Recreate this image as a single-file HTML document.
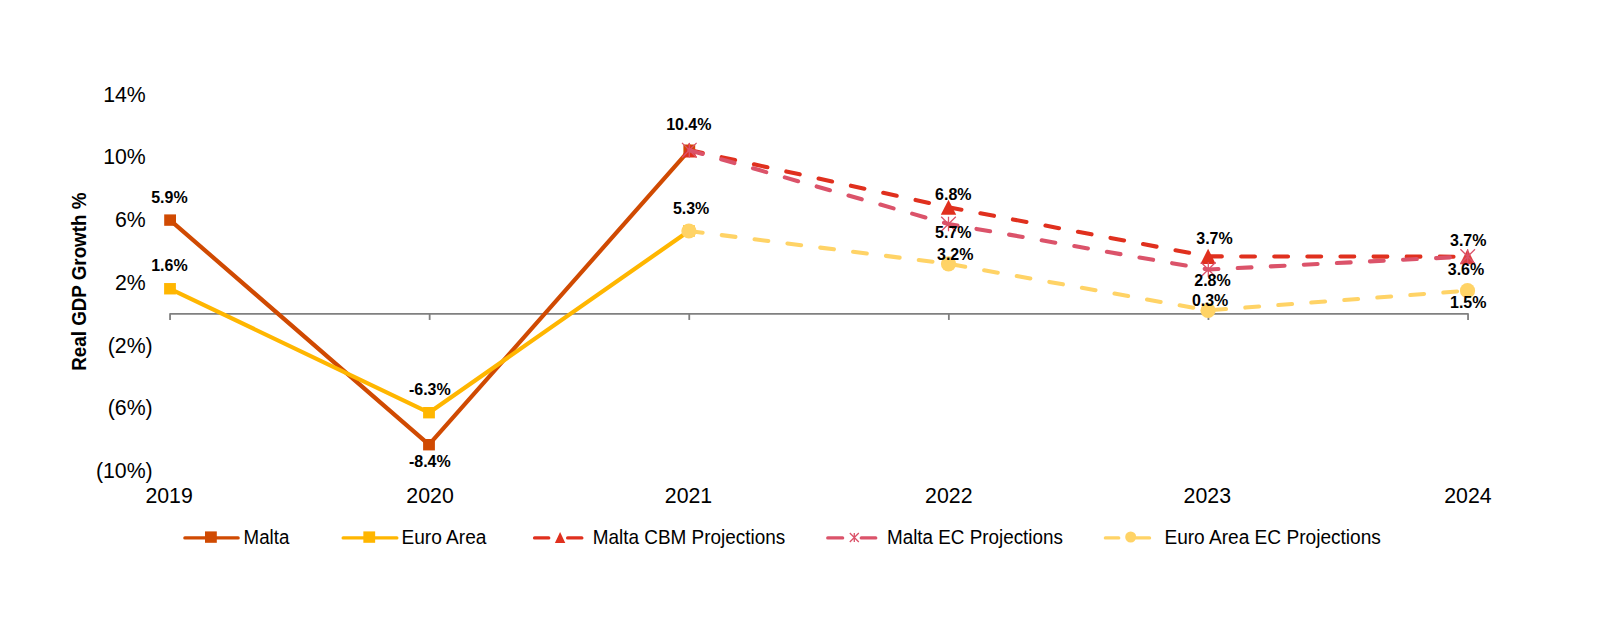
<!DOCTYPE html><html><head><meta charset="utf-8"><title>Real GDP Growth</title>
<style>html,body{margin:0;padding:0;background:#fff}svg{display:block}text{font-family:"Liberation Sans",Arial,sans-serif;fill:#000}</style></head><body>
<svg width="1600" height="619" viewBox="0 0 1600 619">
<rect width="1600" height="619" fill="#fff"/>
<path d="M170.05 319.95 V313.95 H1468.05 V319.95" stroke="#808080" stroke-width="1.8" fill="none" stroke-linejoin="round"/>
<path d="M429.65 313.95 v6" stroke="#808080" stroke-width="1.8" fill="none"/>
<path d="M689.25 313.95 v6" stroke="#808080" stroke-width="1.8" fill="none"/>
<path d="M948.85 313.95 v6" stroke="#808080" stroke-width="1.8" fill="none"/>
<path d="M1208.45 313.95 v6" stroke="#808080" stroke-width="1.8" fill="none"/>
<text transform="translate(145.80,101.70) scale(0.9616,1)" font-size="22.15" text-anchor="end">14%</text>
<text transform="translate(145.80,164.40) scale(0.9616,1)" font-size="22.15" text-anchor="end">10%</text>
<text transform="translate(145.80,227.10) scale(0.9616,1)" font-size="22.15" text-anchor="end">6%</text>
<text transform="translate(145.80,289.80) scale(0.9616,1)" font-size="22.15" text-anchor="end">2%</text>
<text transform="translate(152.70,352.50) scale(0.9616,1)" font-size="22.15" text-anchor="end">(2%)</text>
<text transform="translate(152.70,415.20) scale(0.9616,1)" font-size="22.15" text-anchor="end">(6%)</text>
<text transform="translate(152.70,477.90) scale(0.9616,1)" font-size="22.15" text-anchor="end">(10%)</text>
<text transform="translate(169.10,502.90) scale(0.9616,1)" font-size="22.15" text-anchor="middle">2019</text>
<text transform="translate(430.05,502.90) scale(0.9616,1)" font-size="22.15" text-anchor="middle">2020</text>
<text transform="translate(688.50,502.90) scale(0.9616,1)" font-size="22.15" text-anchor="middle">2021</text>
<text transform="translate(948.80,502.90) scale(0.9616,1)" font-size="22.15" text-anchor="middle">2022</text>
<text transform="translate(1207.30,502.90) scale(0.9616,1)" font-size="22.15" text-anchor="middle">2023</text>
<text transform="translate(1467.90,502.90) scale(0.9616,1)" font-size="22.15" text-anchor="middle">2024</text>
<text transform="translate(85.60,281.70) rotate(-90) scale(0.9592,1)" font-size="19.6" text-anchor="middle" font-weight="bold">Real GDP Growth %</text>
<polyline points="170.1,220.1 429.0,444.7 689.3,150.2" fill="none" stroke="#D04A02" stroke-width="4.2" stroke-linejoin="round" stroke-linecap="round"/>
<rect x="164.20" y="214.40" width="11.8" height="11.4" fill="#D04A02"/>
<rect x="423.10" y="439.00" width="11.8" height="11.4" fill="#D04A02"/>
<rect x="683.40" y="144.50" width="11.8" height="11.4" fill="#D04A02"/>
<polyline points="170.0,288.8 429.0,412.7 688.9,231.0" fill="none" stroke="#FFB600" stroke-width="4.2" stroke-linejoin="round" stroke-linecap="round"/>
<rect x="164.10" y="283.05" width="11.8" height="11.4" fill="#FFB600"/>
<rect x="423.10" y="407.00" width="11.8" height="11.4" fill="#FFB600"/>
<rect x="683.00" y="225.30" width="11.8" height="11.4" fill="#FFB600"/>
<polyline points="689.3,150.0 948.5,207.2 1208.1,256.4 1467.5,256.7" fill="none" stroke="#E0301E" stroke-width="4.1" stroke-dasharray="13.8 19.3" stroke-linecap="round" stroke-linejoin="round"/>
<path d="M689.3 142.4 L697.0 157.6 L681.6 157.6 Z" fill="#E0301E"/>
<path d="M948.5 199.7 L956.2 214.8 L940.8 214.8 Z" fill="#E0301E"/>
<path d="M1208.1 248.8 L1215.8 264.0 L1200.4 264.0 Z" fill="#E0301E"/>
<path d="M1467.5 249.1 L1475.2 264.3 L1459.8 264.3 Z" fill="#DE3F42"/>
<polyline points="689.3,150.2 948.5,224.0 1208.3,269.5 1467.7,256.5" fill="none" stroke="#DB536A" stroke-width="4.1" stroke-dasharray="13.8 19.3" stroke-linecap="round" stroke-linejoin="round"/>
<path d="M682.0 142.9 L696.6 157.5 M696.6 142.9 L682.0 157.5 M689.3 142.9 V157.5" stroke="#DB536A" stroke-width="1.3" fill="none"/>
<path d="M941.2 216.7 L955.8 231.3 M955.8 216.7 L941.2 231.3 M948.5 216.7 V231.3" stroke="#DB536A" stroke-width="1.3" fill="none"/>
<path d="M1201.0 262.2 L1215.6 276.8 M1215.6 262.2 L1201.0 276.8 M1208.3 262.2 V276.8" stroke="#DB536A" stroke-width="1.3" fill="none"/>
<path d="M1460.4 249.2 L1475.0 263.8 M1475.0 249.2 L1460.4 263.8 M1467.7 249.2 V263.8" stroke="#DB536A" stroke-width="1.3" fill="none"/>
<polyline points="688.9,231.0 948.5,263.8 1208.0,310.4 1467.5,290.7" fill="none" stroke="#FFD366" stroke-width="4.1" stroke-dasharray="13.8 19.3" stroke-linecap="round" stroke-linejoin="round"/>
<circle cx="688.9" cy="231.0" r="7.6" fill="#FFD366"/>
<circle cx="948.5" cy="263.8" r="7.6" fill="#FFD366"/>
<circle cx="1208.0" cy="310.4" r="7.6" fill="#FFD366"/>
<circle cx="1467.5" cy="290.7" r="7.6" fill="#FFD366"/>
<text transform="translate(169.40,202.85) scale(0.9412,1)" font-size="17.0" text-anchor="middle" font-weight="bold">5.9%</text>
<text transform="translate(169.40,270.60) scale(0.9412,1)" font-size="17.0" text-anchor="middle" font-weight="bold">1.6%</text>
<text transform="translate(429.80,394.60) scale(0.9412,1)" font-size="17.0" text-anchor="middle" font-weight="bold">-6.3%</text>
<text transform="translate(429.80,466.70) scale(0.9412,1)" font-size="17.0" text-anchor="middle" font-weight="bold">-8.4%</text>
<text transform="translate(688.80,129.90) scale(0.9412,1)" font-size="17.0" text-anchor="middle" font-weight="bold">10.4%</text>
<text transform="translate(691.10,214.20) scale(0.9412,1)" font-size="17.0" text-anchor="middle" font-weight="bold">5.3%</text>
<text transform="translate(953.30,199.60) scale(0.9412,1)" font-size="17.0" text-anchor="middle" font-weight="bold">6.8%</text>
<text transform="translate(953.30,237.70) scale(0.9412,1)" font-size="17.0" text-anchor="middle" font-weight="bold">5.7%</text>
<text transform="translate(955.20,259.60) scale(0.9412,1)" font-size="17.0" text-anchor="middle" font-weight="bold">3.2%</text>
<text transform="translate(1214.50,244.00) scale(0.9412,1)" font-size="17.0" text-anchor="middle" font-weight="bold">3.7%</text>
<text transform="translate(1212.50,285.70) scale(0.9412,1)" font-size="17.0" text-anchor="middle" font-weight="bold">2.8%</text>
<text transform="translate(1210.10,305.70) scale(0.9412,1)" font-size="17.0" text-anchor="middle" font-weight="bold">0.3%</text>
<text transform="translate(1468.20,246.40) scale(0.9412,1)" font-size="17.0" text-anchor="middle" font-weight="bold">3.7%</text>
<text transform="translate(1466.00,274.80) scale(0.9412,1)" font-size="17.0" text-anchor="middle" font-weight="bold">3.6%</text>
<text transform="translate(1468.20,307.60) scale(0.9412,1)" font-size="17.0" text-anchor="middle" font-weight="bold">1.5%</text>
<path d="M184.9 537.9 H238.1" stroke="#D04A02" stroke-width="3.4" stroke-linecap="round" fill="none"/>
<rect x="205.00" y="531.40" width="11.8" height="11.4" fill="#D04A02"/>
<text transform="translate(243.60,543.70) scale(0.9541,1)" font-size="19.6" text-anchor="start">Malta</text>
<path d="M343.2 537.9 H396.8" stroke="#FFB600" stroke-width="3.4" stroke-linecap="round" fill="none"/>
<rect x="363.35" y="531.40" width="11.8" height="11.4" fill="#FFB600"/>
<text transform="translate(401.50,543.70) scale(0.9745,1)" font-size="19.6" text-anchor="start">Euro Area</text>
<path d="M534.6 537.9 H582.1" stroke="#E0301E" stroke-width="3.4" stroke-linecap="round" stroke-dasharray="14.1 19" fill="none"/>
<path d="M560.1 531.9 L565.3 542.9 L554.9 542.9 Z" fill="#E0301E"/>
<text transform="translate(592.70,543.70) scale(0.9668,1)" font-size="19.6" text-anchor="start">Malta CBM Projections</text>
<path d="M827.8 537.9 H875.7" stroke="#DB536A" stroke-width="3.4" stroke-linecap="round" stroke-dasharray="14.8 18.7" fill="none"/>
<path d="M849.8 533.0 L858.8 542.0 M858.8 533.0 L849.8 542.0 M854.3 533.0 V542.0" stroke="#DB536A" stroke-width="1.3" fill="none"/>
<text transform="translate(887.00,543.70) scale(0.9617,1)" font-size="19.6" text-anchor="start">Malta EC Projections</text>
<path d="M1105.4 537.9 H1151.5" stroke="#FFD366" stroke-width="3.4" stroke-linecap="round" stroke-dasharray="13.3 17.5" fill="none"/>
<circle cx="1130.7" cy="537" r="5.5" fill="#FFD366"/>
<text transform="translate(1164.40,543.70) scale(0.9745,1)" font-size="19.6" text-anchor="start">Euro Area EC Projections</text>
</svg></body></html>
